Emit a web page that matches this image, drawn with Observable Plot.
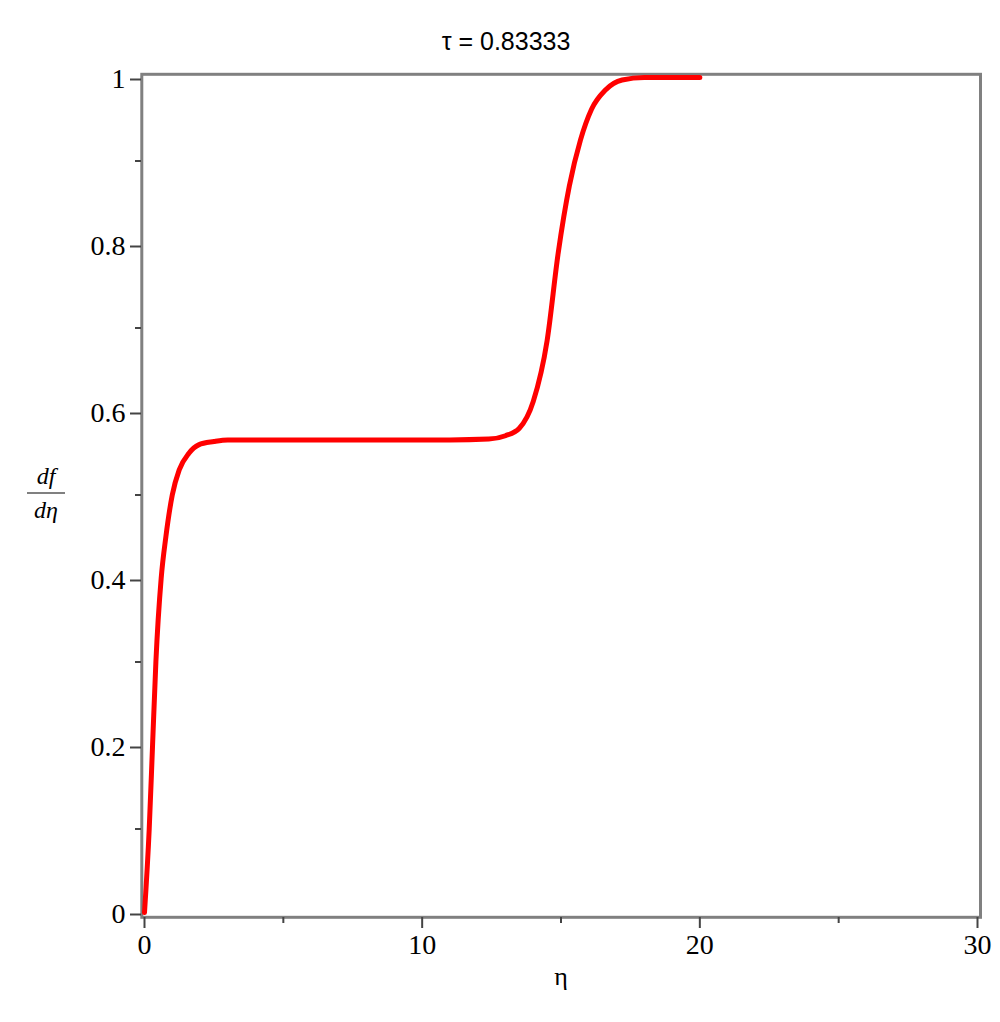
<!DOCTYPE html>
<html>
<head>
<meta charset="utf-8">
<script src="https://cdn.jsdelivr.net/npm/d3@7"></script>
<script src="https://cdn.jsdelivr.net/npm/@observablehq/plot@0.6"></script>
<style>
  body { margin: 0; background: #fff; }
  #wrap { position: relative; width: 1000px; height: 1022px; background: #fff; }
  #title { height: 60px; box-sizing: border-box; padding-top: 27px; padding-left: 12px; line-height: 25px;
           font: 25px "Liberation Sans", sans-serif; text-align: center; color: #000; }
  .frac { position: absolute; left: 25px; width: 42px; text-align: center;
          font: italic 24px "Liberation Serif", serif; line-height: 24px; color: #000; }
  #fracline { position: absolute; left: 27px; top: 492px; width: 38px; height: 2px; background: #808080; }
</style>
</head>
<body>
<div id="wrap">
  <div id="title">τ = 0.83333</div>
  <div id="chart"></div>
  <div class="frac" style="top:464px">df</div>
  <div id="fracline"></div>
  <div class="frac" style="top:498px">dη</div>
</div>
<script>
// data
const eta    = [0, 0.17, 0.29, 0.41, 0.6, 0.77, 1.0, 1.25, 1.6, 1.95, 2.5, 3.0, 5, 8, 11, 12.4, 13.0, 13.5, 14.0, 14.5, 14.9, 15.3, 15.7, 16.1, 16.6, 17.2, 18.0, 20];
const dfdeta = [0, 0.1, 0.2, 0.3, 0.4, 0.45, 0.5, 0.53, 0.55, 0.56, 0.564, 0.566, 0.566, 0.566, 0.566, 0.567, 0.571, 0.58, 0.612, 0.685, 0.79, 0.87, 0.925, 0.962, 0.985, 0.997, 1.0, 1.0];
const xMajor = [0, 10, 20, 30];
const xMinor = [5, 15, 25];
const yMajor = [0, 0.2, 0.4, 0.6, 0.8, 1];
const yMinor = [0.1, 0.3, 0.5, 0.7, 0.9];
const xLabel = "η";

const data = eta.map((e, i) => ({eta: e, v: dfdeta[i]}));
const serif = '"Liberation Serif", "Times New Roman", serif';
const tickColor = "#444";

const chart = Plot.plot({
  width: 1000,
  height: 950,
  marginTop: 17,
  marginBottom: 98,
  marginLeft: 144,
  marginRight: 23,
  style: {fontFamily: serif, fontSize: "28px", background: "#fff", color: "#000"},
  x: {domain: [0, 30]},
  y: {domain: [0, 1]},
  marks: [
    Plot.frame({stroke: "#808080", strokeWidth: 3, insetLeft: -2.7, insetRight: -3, insetTop: -3.2, insetBottom: -4.8}),
    Plot.axisY(yMajor, {anchor: "left", dx: -3, tickSize: 11, tickPadding: 5, stroke: tickColor, strokeWidth: 2,
      tickFormat: d => String(d), fontSize: 28, fontFamily: serif, dy: 2, label: null}),
    Plot.axisY(yMinor, {anchor: "left", dx: -3, tickSize: 6, stroke: tickColor, strokeWidth: 2, tickFormat: null, text: null, label: null}),
    Plot.axisX(xMajor, {anchor: "bottom", dy: 5, tickSize: 11, tickPadding: 6, stroke: tickColor, strokeWidth: 2,
      tickFormat: d => String(d), fontSize: 28, fontFamily: serif, label: null}),
    Plot.axisX(xMinor, {anchor: "bottom", dy: 5, tickSize: 6, stroke: tickColor, strokeWidth: 2, tickFormat: null, text: null, label: null}),
    Plot.line(data, {x: "eta", y: "v", stroke: "#ff0000", strokeWidth: 5, curve: "monotone-x"}),
    Plot.text([xLabel], {frameAnchor: "bottom", dy: 72, text: d => d, fontSize: 26, fontFamily: serif, fill: "#000"})
  ]
});
document.getElementById("chart").appendChild(chart);
</script>
</body>
</html>
